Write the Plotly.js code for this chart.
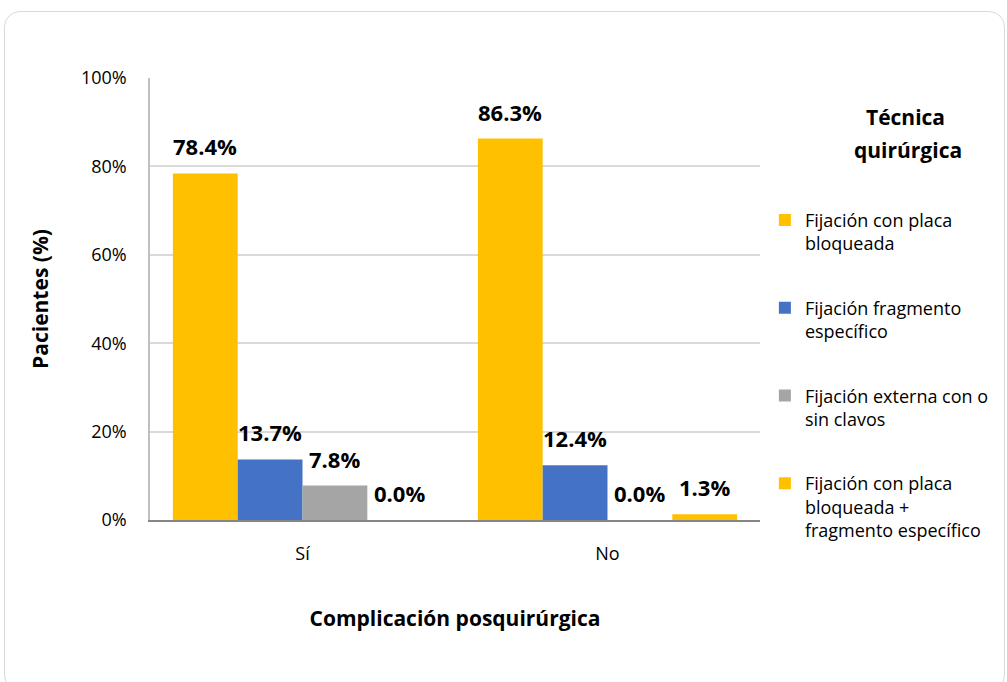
<!DOCTYPE html>
<html>
<head>
<meta charset="utf-8">
<script src="https://cdn.plot.ly/plotly-3.0.1.min.js"></script>
<style>
  html, body { margin:0; padding:0; background:#fff; overflow:hidden; }
  #frame { position:absolute; left:4px; top:11px; width:1001px; height:680px; border:1.5px solid #D9D9D9; border-radius:16px; box-sizing:border-box; }
  #chart { position:absolute; left:0; top:0; width:1007px; height:682px; }
</style>
</head>
<body>
<div id="frame"></div>
<div id="chart"></div>
<script>
const categories = ["Sí", "No"];
const seriesNames = [
  "Fijación con placa<br>bloqueada",
  "Fijación fragmento<br>específico",
  "Fijación externa con o<br>sin clavos",
  "Fijación con placa<br>bloqueada +<br>fragmento específico"
];
const placaBloqueada = [78.4, 86.3];
const fragmentoEspecifico = [13.7, 12.4];
const externaClavos = [7.8, 0.0];
const placaMasFragmento = [0.0, 1.3];
const yTickVals = [0, 20, 40, 60, 80, 100];
const yTickText = ["0%", "20%", "40%", "60%", "80%", "100%"];
const legendTitleLines = ["Técnica", "quirúrgica"];

const seriesValues = [placaBloqueada, fragmentoEspecifico, externaClavos, placaMasFragmento];
const colors = ["#FFC000", "#4472C4", "#A5A5A5", "#FFC000"];
const FONT = "Open Sans, sans-serif";

const traces = seriesValues.map((vals, i) => ({
  type: "bar",
  name: seriesNames[i],
  x: categories,
  y: vals,
  marker: { color: colors[i] },
  legendgroup: "g" + i,
  hoverinfo: "skip"
}));

const nS = seriesValues.length;
const plotW = 610, bargap = 0.15;
const barPx = plotW / categories.length * (1 - bargap) / nS;
const annotations = [];
seriesValues.forEach((vals, i) => {
  vals.forEach((v, j) => {
    annotations.push({
      x: categories[j], y: v, xref: "x", yref: "y",
      text: v.toFixed(1) + "%",
      showarrow: false, yanchor: "bottom",
      xshift: (i - (nS - 1) / 2) * barPx, yshift: 10,
      font: { family: FONT, size: 22, color: "#000", weight: 700 }
    });
  });
});
legendTitleLines.forEach((t, k) => {
  annotations.push({
    xref: "paper", yref: "paper", x: 1.238 + k * 0.005, y: 1 - (117 + k * 33 - 78) / 442,
    xanchor: "center", yanchor: "middle",
    text: "<b>" + t + "</b>", showarrow: false,
    font: { family: FONT, size: 21, color: "#000" }
  });
});

const layout = {
  width: 1007, height: 682,
  paper_bgcolor: "rgba(0,0,0,0)", plot_bgcolor: "rgba(0,0,0,0)",
  margin: { l: 150, r: 247, t: 78, b: 162 },
  font: { family: FONT, size: 18, color: "#000" },
  barmode: "group", bargap: bargap, bargroupgap: 0,
  showlegend: true,
  legend: {
    x: 1.008, xanchor: "left", y: 0.72, yanchor: "top",
    font: { family: FONT, size: 18, color: "#000" },
    tracegroupgap: 38, traceorder: "grouped",
    itemwidth: 30, valign: "top"
  },
  xaxis: {
    type: "category",
    showgrid: false, showline: true, linecolor: "#868686", linewidth: 2,
    ticks: "outside", ticklen: 16, tickcolor: "rgba(0,0,0,0)",
    tickfont: { family: FONT, size: 18, color: "#000" },
    title: { text: "<b>Complicación posquirúrgica</b>", font: { family: FONT, size: 21, color: "#000" }, standoff: 48 },
    zeroline: false
  },
  yaxis: {
    range: [0, 100], tickvals: yTickVals, ticktext: yTickText,
    showgrid: true, gridcolor: "#D9D9D9", gridwidth: 1.5,
    showline: true, linecolor: "#BFBFBF", linewidth: 1.5,
    ticks: "outside", ticklen: 18, tickcolor: "rgba(0,0,0,0)",
    tickfont: { family: FONT, size: 18, color: "#000" },
    title: { text: "<b>Pacientes (%)</b>", font: { family: FONT, size: 21, color: "#000" }, standoff: 27 },
    zeroline: false
  },
  annotations: annotations
};

Plotly.newPlot("chart", traces, layout, { displayModeBar: false, responsive: false });
</script>
</body>
</html>
